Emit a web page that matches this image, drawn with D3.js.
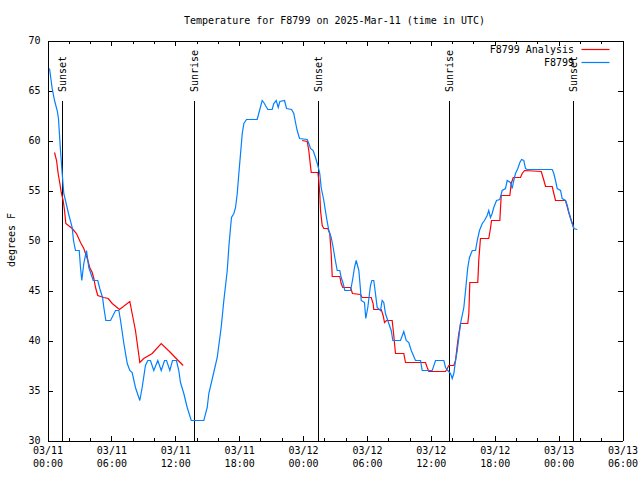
<!DOCTYPE html>
<html>
<head>
<meta charset="utf-8">
<script src="https://cdn.jsdelivr.net/npm/d3@7"></script>
<style>
  html, body { margin: 0; padding: 0; background: #fff; }
  svg { display: block; }
  text { font-family: "DejaVu Sans Mono", "Liberation Mono", monospace; font-size: 10px; fill: #000; }
</style>
</head>
<body>
<svg id="chart" width="640" height="480"></svg>
<script>
// ---- data (hours since 2025-03-11 00:00 UTC, degrees F) ----
const titleText = "Temperature for F8799 on 2025-Mar-11 (time in UTC)";
const yLabelText = "degrees F";
const seriesNames = ["F8799 Analysis", "F8799"];
const yTicks = [30, 35, 40, 45, 50, 55, 60, 65, 70];
const xMajorHours = [0, 6, 12, 18, 24, 30, 36, 42, 48, 54];
const xMinorHours = [2, 4, 8, 10, 14, 16, 20, 22, 26, 28, 32, 34, 38, 40, 44, 46, 50, 52];

const sunNames = ["Sunset", "Sunrise", "Sunset", "Sunrise", "Sunset"];
const sunHours = [1.41, 13.81, 25.45, 37.75, 49.40];

const obsHours = [0.19,0.44,0.66,0.91,1.03,1.22,1.38,1.53,1.69,1.97,2.32,2.44,2.63,2.98,3.10,3.22,3.41,3.66,3.88,4.04,
  4.29,4.72,4.91,5.17,5.29,5.48,5.92,6.39,6.70,6.86,7.17,7.49,7.73,7.95,8.26,8.67,8.89,9.20,9.42,9.67,
  9.98,10.36,10.68,10.99,11.18,11.49,11.74,12.11,12.33,12.49,12.80,13.12,13.50,14.68,15.00,15.15,15.59,15.94,16.31,16.56,
  16.88,17.04,17.19,17.28,17.50,17.66,17.82,17.97,18.13,18.29,18.44,18.69,19.69,19.84,20.16,20.31,20.69,21.10,21.25,21.48,
  21.67,21.82,22.26,22.45,22.92,23.13,23.29,23.45,23.67,24.39,24.54,24.70,24.95,25.17,25.39,25.57,25.70,25.95,26.20,26.42,
  26.64,26.83,26.98,27.21,27.45,27.58,27.77,27.92,28.46,28.64,28.83,28.99,29.24,29.40,29.46,29.77,29.89,30.08,30.33,30.46,
  30.64,30.80,30.96,31.27,31.43,31.58,31.74,32.05,32.28,32.43,33.15,33.46,33.69,33.93,34.16,34.56,35.03,35.19,36.13,36.44,
  37.22,37.38,37.59,37.85,38.01,38.16,38.32,38.48,38.63,38.79,39.10,39.26,39.47,39.63,39.89,40.20,40.36,40.57,40.83,41.04,
  41.29,41.44,41.60,41.76,41.91,42.17,42.48,42.70,43.01,43.17,43.48,43.64,43.79,43.95,44.17,44.36,44.52,44.73,44.89,45.05,
  47.40,47.55,47.71,47.87,48.18,48.34,48.65,48.81,48.96,49.12,49.28,49.43,49.75];
const obsTemps = [67.2,65.2,64.0,63.0,62.2,59.0,56.7,54.7,54.0,52.7,51.3,50.0,49.0,49.0,47.3,46.0,47.7,49.0,47.3,46.8,
  46.0,46.0,45.2,44.3,43.3,42.0,42.0,43.0,43.0,42.0,39.7,37.7,37.0,36.8,35.3,34.0,35.3,37.5,38.0,38.0,
  37.0,38.0,37.0,38.0,38.0,37.0,38.0,38.0,37.0,35.8,34.7,33.3,32.0,32.0,33.3,34.7,36.7,38.3,41.3,44.0,
  47.0,49.5,51.3,52.3,52.7,53.3,54.7,56.7,58.7,60.7,61.7,62.1,62.1,62.7,64.0,63.8,63.1,63.1,63.7,64.0,
  63.3,63.9,64.0,63.2,63.1,62.7,61.8,61.0,60.2,60.1,59.7,59.2,59.0,58.3,57.5,56.7,55.3,54.0,52.3,51.0,
  50.3,49.3,48.3,47.0,47.0,46.3,45.7,45.0,45.0,46.0,47.3,48.0,47.0,45.0,44.0,43.8,42.2,43.3,45.5,46.0,
  46.0,44.7,43.3,43.0,44.0,43.8,42.7,41.7,41.0,40.0,40.0,40.9,40.0,39.8,39.0,38.0,38.0,37.0,37.0,38.0,
  38.0,37.3,37.0,36.7,36.2,36.7,38.0,39.0,40.3,41.7,43.3,45.0,47.3,48.3,49.0,49.0,50.0,51.0,51.7,52.0,
  52.5,53.0,52.3,52.7,53.3,54.0,54.1,55.0,55.2,56.0,55.8,55.2,56.0,56.7,57.2,57.8,58.1,58.0,57.2,57.1,
  57.1,56.7,56.0,55.2,55.0,54.2,54.0,53.5,52.8,52.2,51.7,51.2,51.1];

const anaHours = [0.66,0.85,1.00,1.16,1.29,1.47,1.60,1.72,2.32,2.72,3.10,3.41,3.73,3.97,4.20,4.35,4.51,4.72,5.29,5.70,
  6.08,6.76,7.73,7.95,8.26,8.48,8.67,9.04,9.83,10.68,11.55,12.18,12.74,
  18.00,
  23.92,24.39,24.54,24.64,24.77,25.39,25.48,25.57,25.64,25.80,25.95,26.32,26.51,26.64,26.74,27.45,27.58,27.73,28.46,28.64,
  29.40,29.55,30.40,30.58,30.64,31.34,31.52,31.65,31.84,32.37,32.52,32.68,33.46,33.62,35.50,35.66,35.81,37.38,37.54,37.69,
  38.16,38.32,38.48,38.63,38.79,39.47,39.57,39.66,40.41,40.50,40.66,41.44,41.60,41.70,42.48,42.61,43.42,43.55,43.74,44.42,
  44.58,44.80,46.37,46.62,46.77,47.40,47.55,47.71,48.43,48.65,48.96,49.28,49.43];
const anaTemps = [58.8,58.0,56.7,55.7,54.8,54.0,53.0,51.7,51.2,50.7,49.8,49.2,48.2,47.3,46.8,46.2,45.3,44.5,44.3,44.2,
  43.7,43.1,43.9,42.7,41.0,39.3,37.8,38.2,38.7,39.7,38.8,38.1,37.5,
  null,
  60.0,59.9,59.0,58.0,56.8,56.8,56.0,54.7,53.0,51.5,51.2,51.2,50.7,48.7,46.4,46.4,45.7,45.3,45.3,44.7,
  44.6,44.3,44.3,43.7,43.1,43.1,42.5,41.8,42.0,42.0,40.5,38.7,38.7,37.8,37.8,37.3,36.9,36.9,37.2,37.5,
  37.5,38.0,39.5,40.7,41.7,41.7,42.7,45.8,45.8,48.0,50.2,50.2,51.2,52.0,52.0,54.5,54.5,55.7,56.3,56.3,
  56.7,57.0,56.9,56.0,55.4,55.4,54.7,54.0,54.0,54.0,52.8,51.7,51.2];

// ---- setup ----
const base = Date.UTC(2025, 2, 11, 0, 0);
const toDate = h => new Date(base + h * 3600e3);
const m = { left: 47, right: 622, top: 40, bottom: 440 };
const red = "#ff0000", blue = "#0080ff";

const svg = d3.select("#chart");
const x = d3.scaleUtc().domain([toDate(0), toDate(54)]).range([m.left, m.right]);
const y = d3.scaleLinear().domain([30, 70]).range([m.bottom, m.top]);

const g = svg.append("g").attr("transform", "translate(0.5,0.5)");

// title & y label
svg.append("text").attr("x", (m.left + m.right) / 2).attr("y", 20).attr("dy", "0.35em")
  .attr("text-anchor", "middle").text(titleText);
svg.append("text").attr("transform", "translate(11,240) rotate(-90)")
  .attr("dy", "0.35em").attr("text-anchor", "middle").text(yLabelText);

// axes
const fmtD = d3.utcFormat("%m/%d"), fmtT = d3.utcFormat("%H:%M");
const xb = g.append("g").attr("transform", `translate(0,${m.bottom})`)
  .call(d3.axisBottom(x).tickValues(xMajorHours.map(toDate)).tickSizeInner(-5).tickSizeOuter(0).tickPadding(9)
    .tickFormat(d => fmtD(d)));
xb.selectAll(".tick text").each(function(d) {
  const t = d3.select(this);
  t.text(null);
  t.append("tspan").attr("x", 0).attr("dy", "0.45em").text(fmtD(d));
  t.append("tspan").attr("x", 0).attr("dy", "1.3em").text(fmtT(d));
});
g.append("g").attr("transform", `translate(0,${m.bottom})`)
  .call(d3.axisBottom(x).tickValues(xMinorHours.map(toDate)).tickSizeInner(-3).tickSizeOuter(0).tickFormat(""))
  .call(s => s.select(".domain").remove());
g.append("g").attr("transform", `translate(0,${m.top})`)
  .call(d3.axisTop(x).tickValues(xMajorHours.map(toDate)).tickSizeInner(-5).tickSizeOuter(0).tickFormat(""));
g.append("g").attr("transform", `translate(0,${m.top})`)
  .call(d3.axisTop(x).tickValues(xMinorHours.map(toDate)).tickSizeInner(-3).tickSizeOuter(0).tickFormat(""))
  .call(s => s.select(".domain").remove());
g.append("g").attr("transform", `translate(${m.left},0)`)
  .call(d3.axisLeft(y).tickValues(yTicks).tickSizeInner(-5).tickSizeOuter(0).tickPadding(7).tickFormat(d3.format("d")));
g.append("g").attr("transform", `translate(${m.right},0)`)
  .call(d3.axisRight(y).tickValues(yTicks).tickSizeInner(-5).tickSizeOuter(0).tickFormat(""));

g.selectAll(".domain, .tick line").attr("stroke", "#000").attr("shape-rendering", "crispEdges");
svg.selectAll("g").attr("font-family", null).attr("font-size", null);

// sunrise / sunset lines
sunHours.forEach((h, i) => {
  const px = Math.round(x(toDate(h)));
  g.append("line").attr("x1", px).attr("x2", px).attr("y1", 100).attr("y2", m.bottom)
    .attr("stroke", "#000").attr("shape-rendering", "crispEdges");
  svg.append("text").attr("transform", `translate(${px + 0.5},92) rotate(-90)`)
    .attr("dy", "0.35em").attr("text-anchor", "start").text(sunNames[i]);
});

// lines
const obs = obsHours.map((h, i) => ({ t: toDate(h), v: obsTemps[i] }));
const ana = anaHours.map((h, i) => ({ t: toDate(h), v: anaTemps[i] }));
const line = d3.line().defined(d => d.v != null).x(d => x(d.t)).y(d => y(d.v));

g.append("path").datum(ana).attr("d", line).attr("fill", "none")
  .attr("stroke", red).attr("stroke-width", 1.2);
g.append("path").datum(obs).attr("d", line).attr("fill", "none")
  .attr("stroke", blue).attr("stroke-width", 1.2);

// legend
const legend = [{ name: seriesNames[0], color: red, y: 49 }, { name: seriesNames[1], color: blue, y: 62 }];
legend.forEach(l => {
  svg.append("text").attr("x", 574).attr("y", l.y).attr("dy", "0.35em").attr("text-anchor", "end").text(l.name);
  g.append("line").attr("x1", 581).attr("x2", 609).attr("y1", l.y).attr("y2", l.y)
    .attr("stroke", l.color).attr("stroke-width", 1.2);
});
</script>
</body>
</html>
